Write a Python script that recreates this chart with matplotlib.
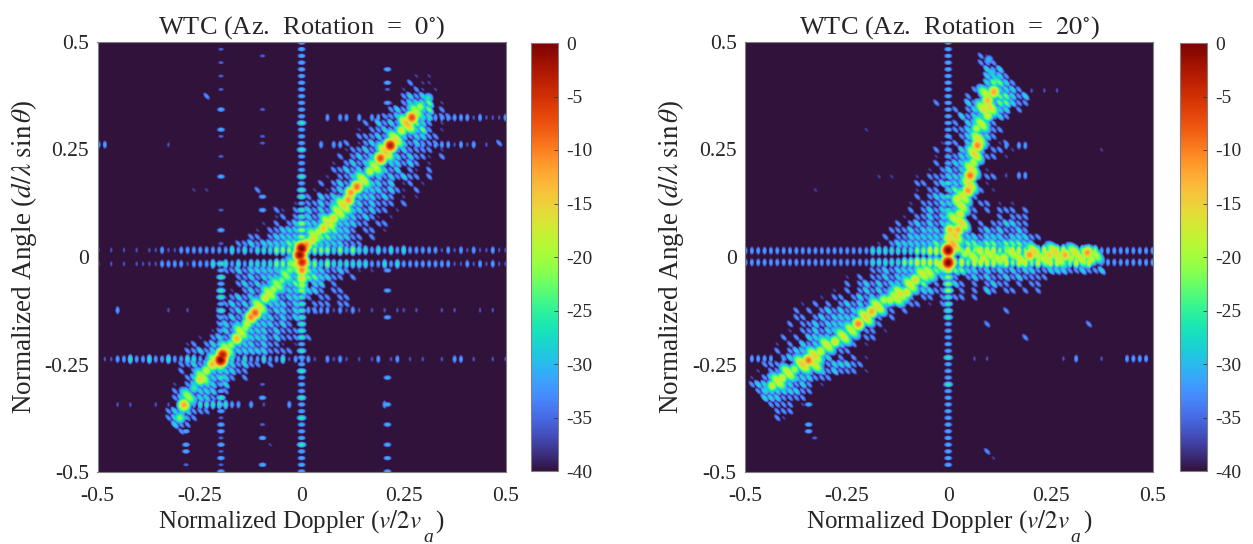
import numpy as np
import matplotlib
matplotlib.use("Agg")
import matplotlib.pyplot as plt

plt.rcParams["font.family"] = ["Liberation Serif", "DejaVu Serif"]
plt.rcParams["mathtext.fontset"] = "stix"
plt.rcParams["axes.unicode_minus"] = False

W, H = 1253, 544
LEVEL_STEP = -5.0       # one digit in a lobe string = 5 dB below peak
PATCH_TRIM = -2.0       # side lobes read a little below the digit's level
LOBE = 1 / 64           # lobe spacing

AXIS_TICKS = [-0.5, -0.25, 0, 0.25, 0.5]
AXIS_LABELS = ["-0.5", "-0.25", "0", "0.25", "0.5"]
CBAR_TICKS = [0, -5, -10, -15, -20, -25, -30, -35, -40]
TITLES = ["WTC (Az.  Rotation  =  $0^{\\circ}$)", "WTC (Az.  Rotation  =  $20^{\\circ}$)"]

# ---- left panel, strongest lobes read along the ridge ----
LEFT_RIDGE_X = [-.30, -.29, -.265, -.25, -.235, -.22, -.2, -.195, -.175, -.16, -.14, -.135, -.125, -.115, -.09, -.07, -.05, -.03,
                -.001, -.005, 0, 0, 0, 0, .01, .025, .04, .053, .077, .114, .12, .135, .167, .193, .217, .245, .27, .29, .31]
LEFT_RIDGE_Y = [-.375, -.345, -.305, -.285, -.265, -.25, -.24, -.228, -.205, -.19, -.165, -.155, -.14, -.13, -.095, -.075, -.055, -.03,
                .02, .005, -.012, -.03, -.05, -.065, .028, .04, .058, .067, .09, .133, .15, .164, .2, .23, .26, .295, .325, .35, .37]
LEFT_RIDGE_DB = [-22, -12, -25, -15, -18, -13, 0, -3, -20, -13, -20, -18, -10, -8, -16, -19, -22, -22,
                 0, -1, -4, -10, -16, -20, -10, -15, -18, -14, -15, -11, -11, -9, -18, -7, -3, -17, -7, -20, -26]
# weaker lobes that join the strong ones
LEFT_BODY_X = [-.28, -.245, -.21, -.185, -.15, -.105, -.08, -.06, -.04, -.02, .03, .065, .09, .102, .15, .18, .205, .23, .258, .28]
LEFT_BODY_Y = [-.325, -.28, -.245, -.215, -.175, -.115, -.085, -.065, -.042, -.018, .05, .08, .105, .12, .18, .21, .245, .275, .31, .34]
LEFT_BODY_DB = [-20, -18, -15, -18, -18, -17, -18, -20, -21, -20, -18, -16, -17, -15, -17, -18, -14, -16, -13, -19]
# (x, first row, lobe digits down the column)
LEFT_VERT = [
    (-.001, 0, "66666666666656665666565565544443333344555555565665666566566656666"),
    (-.199, 0, ".7.7.7.7..6..67..7..6....7..6.7"),
    (-.199, 33, "56565565666656566566566766767676"),
    (.21, 4, "6.67.6.7..7"),
    (.21, 34, "6..6...6........6...6..6..6.6.6"),
    (-.097, 1, ".7.......7...77.......6.6"),
    (-.097, 51, "7.6...7.6...6"),
    (-.285, 55, "66.6.66.7"),
]
# (y, first column, lobe digits along the row)
LEFT_HORZ = [
    (.016, 0, "7.7.7.7.776776666666656565554444344445454556565656666676767677677"),
    (-.016, 0, "7.7.7.77776666766656565655554443344545555556656566666666776767677"),
    (-.238, 1, "7766566566566556655556566566576667.6767.7.76.76.7.7..7.66.7..7.7.66"),
    (-.344, 3, "7.7...7.7.6665555566.6.7...6"),
    (-.344, 45, "6"),
    (-.124, 3, "6.......7..7"),
    (-.124, 33, "666676767.7.7.77.7...7.7...7.7"),
    (.262, 50, "6676667676.7...6"),
    (.262, 0, "66"),
    (.262, 11, "7"),
    (.262, 35, "6.66"),
    (.325, 36, "6.66.6.66"),
    (.325, 50, "5556666667677767"),
]
# (row, first column, lobe digits)
LEFT_PATCH = [
    (5, 50, "7.7"), (6, 49, "6.77"), (7, 48, "7.67.7"), (8, 48, "6565"), (9, 46, "7.65554.7"),
    (10, 46, "6565454.6"), (11, 43, "7.66565555.66"), (12, 42, "6.565656456.7"), (13, 41, "7.66565.5546.7"),
    (14, 41, "6665656565566"), (15, 39, "6.7656565565666"), (16, 39, "76656565656666.7"),
    (17, 38, "6.6565656565667.6"), (18, 37, "7.656565655656.7"), (19, 37, "66565656565.67.6"),
    (20, 36, "7.6656565656566.6"), (21, 35, "6.6565655565.76.7"), (22, 34, "7.7656565556567.6"),
    (23, 33, "6.565656555656.7.7"), (24, 31, "7.66565655565666.6"), (25, 29, "7.6.5656565556566.7"),
    (26, 28, "76.66565554556567.7"), (27, 26, "7.6.6555555455566.66"), (28, 25, "7.66555555544556.66.7"),
    (29, 24, "66.655555544455566.6"), (30, 22, "66565555444445555666"),
    (34, 20, "66565555554444556656.7.7"), (35, 22, "66565555554445566.6"), (36, 22, "65656565544.55.6"),
    (37, 21, "7.6565656554556.66"), (38, 20, "76565656565566.66.66"), (39, 20, "6565656555656.666.66"),
    (40, 19, "6.656565655656.6"), (41, 19, "66565655565656"), (42, 19, "656565555656.6"),
    (43, 18, "76565655565666"), (44, 16, "7.65656555565666.6"), (45, 14, "76.6565555565667.7"),
    (46, 14, "66565655555556666"), (48, 13, "6656555556566.6"), (49, 13, "6.656555566"),
    (50, 14, "65655556.6"), (51, 12, "7.6555565"), (52, 12, "6.56555.6"), (53, 12, "65655566"),
    (55, 11, "6555666"), (56, 11, "65566"), (57, 12, "566"), (58, 13, "6"),
    (8, 17, "6"), (22, 15, "7.7"), (22, 25, "6"), (15, 63, "6"), (25, 28, "6"), (60, 27, "7"),
]

# ---- right panel ----
RIGHT_RIDGE_X = [-.002, -.002, -.001, .022, .003, .027, .02, .047, .052, .06, .07, .068, .068, .095, .095, .11, .115, .105, .098,
                 .04, .085, .135, .16, .198, .222, .247, .285, .30, .34, .35,
                 -.083, -.104, -.145, -.16, -.19, -.223, -.28, -.316, -.345, -.38, -.41, -.434, -.45]
RIGHT_RIDGE_Y = [.016, -.013, .045, .063, .063, .1, .135, .155, .19, .22, .26, .278, .30, .33, .365, .385, .41, .43, .46,
                 .008, -.002, -.002, .005, .005, -.002, .005, .005, -.002, .01, -.005,
                 -.053, -.083, -.10, -.10, -.127, -.156, -.197, -.22, -.241, -.262, -.282, -.30, -.31]
RIGHT_RIDGE_DB = [0, 0, -15, -12, -13, -16, -16, -11, -9, -18, -10, -17, -19, -17, -13, -12, -24, -28, -30,
                  -19, -17, -17, -18, -11, -19, -14, -12, -19, -11, -18,
                  -15, -16, -18, -19, -12, -10, -16, -17, -9, -20, -17, -18, -28]
RIGHT_BODY_X = [.01, .015, .03, .012, .03, .035, .05, .055, .063, .072, .08, .085, .1, .09,
                .06, .075, .1, .12, .15, .175, .21, .235, .26, .27, .31, .325, .36,
                -.02, -.05, -.065, -.095, -.12, -.13, -.175, -.205, -.24, -.26, -.3, -.33, -.36, -.33, -.395, -.42]
RIGHT_BODY_Y = [.03, .05, .08, .09, .12, .14, .17, .205, .24, .275, .31, .345, .35, .38,
                0, .014, .006, -.004, .012, -.005, .012, -.005, .012, -.005, .01, -.004, .005,
                -.02, -.035, -.04, -.065, -.085, -.095, -.115, -.14, -.17, -.185, -.205, -.23, -.25, -.25, -.27, -.29]
RIGHT_BODY_DB = [-12, -14, -15, -18, -17, -17, -15, -16, -15, -16, -18, -16, -15, -18,
                 -18, -19, -18, -18, -19, -17, -15, -17, -15, -17, -16, -17, -19,
                 -18, -18, -17, -17, -16, -17, -16, -15, -18, -17, -17, -15, -14, -17, -17, -17]
RIGHT_VERT = [
    (-.002, 0, "6666666666666666666665656555555433344455556666656665666666666666"),
    (-.345, 54, "6..66"),
    (-.33, 59, "7"),
]
RIGHT_HORZ = [
    (.0147, 0, "666666666666666666665555555443333443433344334343433444346666666666"),
    (-.0125, 0, "66666666666666666666555554433333443433334343343433443436666666666"),
    (-.237, 1, "6666.6.6..7"),
    (-.237, 36, "7.7"),
    (-.237, 50, "7.6...7...6666"),
    (.388, 45, "7.7.7"),
    (.26, 41, "6.66"),
    (.19, 41, "7.66"),
]
RIGHT_PATCH = [
    (2, 37, "67"), (3, 37, "666"), (4, 38, "565"), (5, 38, "5556"), (6, 38, "54456"), (7, 36, "6.545556"),
    (8, 35, "6.65544565"), (9, 35, "5655544566"), (10, 33, "6.6556555.6"), (11, 34, "56555656"),
    (12, 33, "6.55556"), (13, 33, "66555.66"), (14, 32, "6.654456"), (15, 31, "7.6.5556.76"),
    (16, 30, "6.6.5545.66.7"), (17, 30, "7.66555.66.7"), (18, 30, "6.65566"), (19, 29, "7.656556.7"),
    (20, 27, "7.66655556.66"), (21, 27, "66.6565566.7"), (22, 27, "7.66.5455.6.7"), (23, 27, "6.65565566"),
    (24, 26, "7.66655456.66.7.7"), (25, 26, "6.6565656.6.6.666.6"), (26, 25, "7.66565656.6...6.666"),
    (27, 24, "6.6565655656.6.665566"), (28, 23, "6665655565656.65656656"),
    (29, 22, "6.66555555565556555655566"), (30, 21, "7.65555554555544544544455"),
    (34, 20, "66565555444.5445565656565566555665665"), (35, 16, "7.6.66565554.4.556.6565665656666"),
    (36, 16, "6.656565554.4.6.656.6.6566.6.66"), (37, 14, "7.6.656565545.55666.6.6.56.66.6.6"),
    (38, 12, "7.66.6565655656.66.6.66.6."), (39, 9, "7.6.6.6565655565.66.7.6"),
    (40, 8, "6.6.656565556566.6"), (41, 8, "66.65655556566.6"), (42, 7, "6.66565555656.6"),
    (43, 7, "7.665655556.66.7"), (44, 6, "6.6.55556566.66"), (45, 5, "7.6.5655565.6.7"),
    (46, 5, "6.6555655.66"), (47, 4, "7.65655555.6.6.7"), (48, 3, "6666.55556655566"),
    (49, 2, "7.66555556565666.7"), (50, 1, "7.65655555666"), (51, 1, "6556555656.7"),
    (52, 2, "655555566"), (53, 3, "5556666"), (54, 4, "6666.7"), (55, 5, "666"), (56, 5, "67"),
    (40, 41, "6"), (42, 54, "6"), (44, 44, "6"), (42, 38, "6"), (61, 38, "6"), (62, 39, "7"),
    (16, 56, "7"), (9, 30, "6"), (20, 21, "7.7"), (13, 19, "7"), (22, 11, "7"),
]

xs = np.linspace(-0.5, 0.5, 409)
ys = np.linspace(-0.5, 0.5, 431)


def stamp(field, x, y, db, kx, ky, kxy=0.0):
    """Raise the dB field with one lobe; kx, ky, kxy are its fall-off in dB per squared lobe spacing."""
    ix = np.abs(xs - x).argmin()
    iy = np.abs(ys - y).argmin()
    hw = 30
    x0, x1 = max(ix - hw, 0), min(ix + hw + 1, xs.size)
    y0, y1 = max(iy - hw, 0), min(iy + hw + 1, ys.size)
    dx = (xs[x0:x1][None, :] - x) / LOBE
    dy = (ys[y0:y1][:, None] - y) / LOBE
    lobe = db - kx * dx ** 2 - ky * dy ** 2 - kxy * dx * dy
    field[y0:y1, x0:x1] = np.maximum(field[y0:y1, x0:x1], lobe)


def build(ridge, body, vert, horz, patch):
    field = np.full((ys.size, xs.size), -60.0)
    for x, r0, s in vert:
        for i, ch in enumerate(s):
            if ch != ".":
                stamp(field, x, 0.5 - (r0 + i) * LOBE, int(ch) * LEVEL_STEP, 20, 62)
    for y, c0, s in horz:
        for i, ch in enumerate(s):
            if ch != ".":
                stamp(field, -0.5 + (c0 + i) * LOBE, y, int(ch) * LEVEL_STEP - 1, 58, 20)
    for r, c0, s in patch:
        for i, ch in enumerate(s):
            if ch != ".":
                stamp(field, -0.5 + (c0 + i) * LOBE, 0.5 - r * LOBE, int(ch) * LEVEL_STEP + PATCH_TRIM, 36, 36, 44)
    for x, y, db in zip(*body):
        stamp(field, x, y, db, 12, 12, 14)
    for x, y, db in zip(*ridge):
        stamp(field, x, y, db, 16, 16)
    return np.clip(field, -40, 0)


panels = [
    (build((LEFT_RIDGE_X, LEFT_RIDGE_Y, LEFT_RIDGE_DB), (LEFT_BODY_X, LEFT_BODY_Y, LEFT_BODY_DB),
           LEFT_VERT, LEFT_HORZ, LEFT_PATCH), 97.5, 531, 428),
    (build((RIGHT_RIDGE_X, RIGHT_RIDGE_Y, RIGHT_RIDGE_DB), (RIGHT_BODY_X, RIGHT_BODY_Y, RIGHT_BODY_DB),
           RIGHT_VERT, RIGHT_HORZ, RIGHT_PATCH), 745, 1180, 1075),
]

fig = plt.figure(figsize=(W / 100, H / 100), dpi=100)
GREY = "#808080"
TEXT = "#262626"
for (field, left, cleft, apx), title in zip(panels, TITLES):
    ax = fig.add_axes([left / W, (H - 472) / H, 408 / W, 430 / H])
    im = ax.imshow(field, extent=[-0.5, 0.5, -0.5, 0.5], origin="lower", cmap="turbo",
                   vmin=-40, vmax=0, aspect="auto", interpolation="bilinear")
    ax.set_xticks(AXIS_TICKS, AXIS_LABELS)
    ax.set_yticks(AXIS_TICKS, AXIS_LABELS)
    ax.tick_params(axis="x", length=0, labelsize=15.5, pad=11, labelcolor=TEXT)
    ax.tick_params(axis="y", length=0, labelsize=15.5, pad=6, labelcolor=TEXT)
    for s in ax.spines.values():
        s.set_color(GREY)
        s.set_linewidth(0.8)
    ax.set_title(title, fontsize=19, color=TEXT, pad=6)
    ax.set_xlabel("Normalized Doppler ($v/2v$\u2009\u2009\u2009)", fontsize=18, color=TEXT, labelpad=1)
    ax.set_ylabel("Normalized Angle ($d/\\lambda\\ \\sin\\theta$)", fontsize=19.5, color=TEXT, labelpad=4)
    fig.text(apx / W, (H - 537) / H, "a", fontsize=14, style="italic", color=TEXT, ha="center", va="center")

    cax = fig.add_axes([cleft / W, (H - 471) / H, 27 / W, 428 / H])
    cb = fig.colorbar(im, cax=cax)
    cb.set_ticks(CBAR_TICKS, labels=[str(t) for t in CBAR_TICKS])
    cb.ax.tick_params(direction="in", length=3, width=0.6, color="#333333", labelsize=14, pad=6, labelcolor=TEXT)
    cb.outline.set_edgecolor(GREY)
    cb.outline.set_linewidth(0.8)

fig.savefig("out.png", dpi=100)
